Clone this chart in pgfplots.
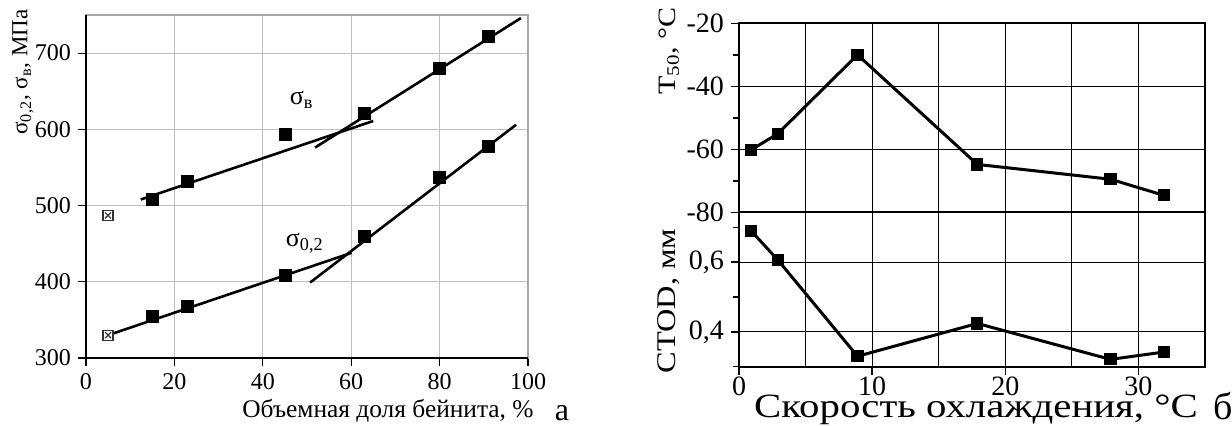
\documentclass[border=0pt]{standalone}
\usepackage{fontspec}
\setmainfont{Liberation Serif}
\newfontfamily\widefont[FakeStretch=1.2]{Liberation Serif}
\usepackage{pgfplots}
\pgfplotsset{compat=1.18}

\begin{document}
\begin{tikzpicture}
\useasboundingbox (0,0) rectangle (616pt,212.5pt);

% --- a: strength vs bainite fraction
\begin{axis}[
  at={(43pt,33.5pt)}, anchor=south west,
  scale only axis, width=221pt, height=171.5pt,
  xmin=0, xmax=100, ymin=300, ymax=750,
  xtick={0,20,...,100}, ytick={300,400,...,700},
  grid=major, major grid style={gray!50, line width=0.6pt},
  axis line style={gray!70, line width=0.6pt},
  tick align=outside, xtick pos=bottom, ytick pos=left,
  major tick length=4pt, tick style={black, line width=0.6pt},
  /pgf/number format/assume math mode=true,
  ticklabel style={font=\fontsize{12}{12}\selectfont},
  clip=false,
]
\draw[black, line width=0.8pt] (rel axis cs:0,1) |- (rel axis cs:1,0);
% fitted lines
\addplot[black, line width=1.3pt] coordinates {(12.4,508) (65,611)};
\addplot[black, line width=1.3pt] coordinates {(51.8,576) (98.4,746)};
\addplot[black, line width=1.3pt] coordinates {(5,330) (60.1,438)};
\addplot[black, line width=1.3pt] coordinates {(50.7,399) (97.3,606)};
% measured points
\addplot[only marks, mark=square*, mark size=3pt, black] coordinates {
  (15,508) (23,532) (45,593) (63,621) (80,680) (91,722)};
\addplot[only marks, mark=square*, mark size=3pt, black] coordinates {
  (15,354) (23,368) (45,409) (63,459) (80,537) (91,578)};
\addplot[only marks, mark=square*, mark size=2.5pt, mark options={fill=white, draw=black!80, line width=0.6pt}] coordinates {(5,487) (5,330)};
\addplot[only marks, mark=x, mark size=2.1pt, mark options={black!80, line width=0.6pt}] coordinates {(5,487) (5,330)};
\node[font=\fontsize{13}{13}\selectfont] at (axis cs:48.8,639) {σ\textsubscript{в}};
\node[font=\fontsize{13}{13}\selectfont] at (axis cs:49.5,451) {σ\textsubscript{0,2}};
\end{axis}

% --- б: T50 (top)
\begin{axis}[
  at={(369.5pt,106.35pt)}, anchor=south west,
  scale only axis, width=233pt, height=94.5pt,
  xmin=0, xmax=35, ymin=-80, ymax=-20,
  xtick={0,10,20,30}, minor xtick={5,15,25}, xticklabels={},
  ytick={-80,-60,-40,-20}, minor ytick={-70,-50,-30},
  xmajorgrids, xminorgrids, ymajorgrids,
  major grid style={black, line width=0.5pt},
  minor grid style={black, line width=0.5pt},
  axis line style={black, line width=1pt},
  tick align=outside, xtick pos=bottom, ytick pos=left,
  x tick style={draw=none},
  y tick style={black, line width=0.7pt},
  major tick length=4pt, minor tick length=3pt,
  /pgf/number format/assume math mode=true,
  ticklabel style={font=\fontsize{14}{14}\selectfont},
]
\addplot[black, line width=1.5pt, mark=square*, mark size=2.3pt] coordinates {
  (0.9,-60.2) (2.9,-55.1) (8.9,-30.0) (17.9,-64.8) (27.9,-69.5) (31.9,-74.6)};
\end{axis}

% --- б: CTOD (bottom)
\begin{axis}[
  at={(369.5pt,29.15pt)}, anchor=south west,
  scale only axis, width=233pt, height=77.2pt,
  xmin=0, xmax=35, ymin=0.30, ymax=0.743,
  xtick={0,10,20,30}, minor xtick={5,15,25},
  ytick={0.4,0.6}, yticklabels={{0,4},{0,6}}, minor ytick={0.3,0.5,0.7},
  xmajorgrids, xminorgrids, ymajorgrids,
  major grid style={black, line width=0.5pt},
  minor grid style={black, line width=0.5pt},
  axis line style={black, line width=1pt},
  tick align=outside, xtick pos=bottom, ytick pos=left,
  tick style={black, line width=0.7pt},
  minor x tick style={draw=none},
  major tick length=4pt, minor tick length=3pt,
  /pgf/number format/assume math mode=true,
  ticklabel style={font=\fontsize{14}{14}\selectfont},
  xticklabel style={inner sep=0pt, yshift=-1pt},
]
\addplot[black, line width=1.5pt, mark=square*, mark size=2.3pt] coordinates {
  (0.9,0.690) (2.9,0.607) (8.9,0.330) (17.9,0.424) (27.9,0.321) (31.9,0.342)};
\end{axis}

% labels
\node[rotate=90, font=\fontsize{11.5}{11.5}\selectfont] at (11.5pt,176.5pt) {σ\textsubscript{0,2}, σ\textsubscript{в}, МПа};
\node[anchor=base, inner sep=0pt, font=\fontsize{12.7}{12.7}\selectfont] at (194pt,4pt) {Объемная доля бейнита, \%};
\node[anchor=base, inner sep=0pt, font=\fontsize{16}{16}\selectfont] at (281pt,2.5pt) {а};
\node[rotate=90, font=\widefont\fontsize{12.5}{12.5}\selectfont] at (334.5pt,187pt) {T\textsubscript{50}, °C};
\node[rotate=90, font=\widefont\fontsize{13.5}{13.5}\selectfont] at (334.5pt,62pt) {CTOD, мм};
\node[anchor=base, inner sep=0pt, font=\widefont\fontsize{17}{17}\selectfont] at (488pt,4pt) {Скорость охлаждения, °C};
\node[anchor=base, inner sep=0pt, font=\fontsize{19}{19}\selectfont] at (611.5pt,3pt) {б};
\end{tikzpicture}
\end{document}
